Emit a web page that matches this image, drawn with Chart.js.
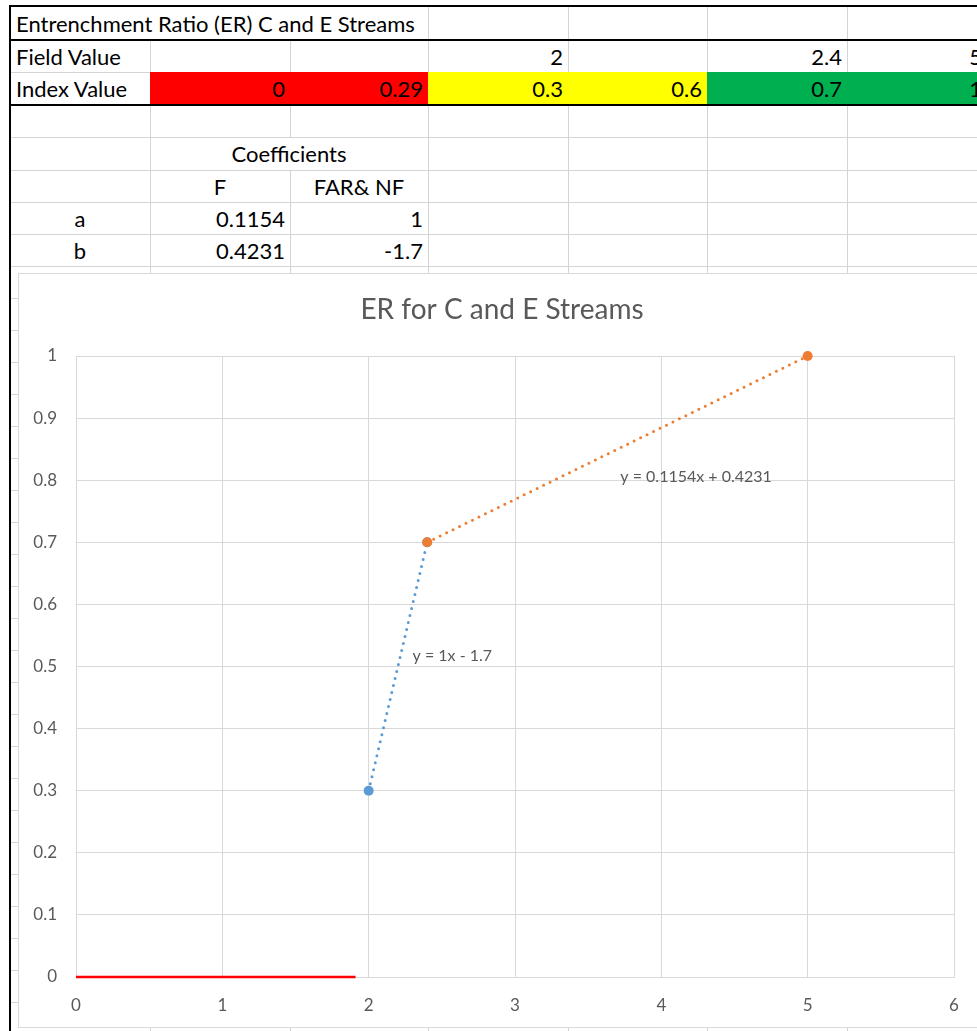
<!DOCTYPE html>
<html>
<head>
<meta charset="utf-8">
<title>ER for C and E Streams</title>
<script src="https://cdn.jsdelivr.net/npm/chart.js@4/dist/chart.umd.min.js"></script>
<style>
  html, body { margin: 0; padding: 0; background: #fff; width: 977px; height: 1031px; overflow: hidden; }
  #sheet { position: absolute; left: 0; top: 0; width: 977px; height: 1031px; overflow: hidden;
           font-family: Lato, "Liberation Sans", sans-serif; color: #000; }
  .cell { position: absolute; box-sizing: border-box; font-size: 22px; white-space: nowrap;
          display: flex; align-items: center; padding: 0 5px; }
  .gl { position: absolute; background: #d4d4d4; }
  .bk { position: absolute; background: #000; }
  .fill { position: absolute; }
  #chartBox { position: absolute; left: 18px; top: 273px; width: 968px; height: 755px;
              border: 1px solid #d9d9d9; background: #fff; box-sizing: border-box; }
  #chartBox canvas { display: block; }
</style>
</head>
<body>
<div id="sheet"></div>
<div id="chartBox"><canvas id="er" width="966" height="753" style="width:966px;height:753px"></canvas></div>
<script>
// ---- worksheet values ----
const sheetTitle = 'Entrenchment Ratio (ER) C and E Streams';
const rowLabels = ['Field Value', 'Index Value'];
const fieldValues = [null, null, 2, null, 2.4, 5];          // columns B..G
const indexValues = [0, 0.29, 0.3, 0.6, 0.7, 1];            // columns B..G
const coefficientTitle = 'Coefficients';
const coefficientHeaders = ['F', 'FAR& NF'];
const coefNames = ['a', 'b'];
const coefA = [0.1154, 1];                                   // slope: F, FAR&NF
const coefB = [0.4231, -1.7];                                // intercept: F, FAR&NF

// ---- chart values ----
const chartTitle = 'ER for C and E Streams';
const xTicks = [0, 1, 2, 3, 4, 5, 6];
const yTicks = [0, 0.1, 0.2, 0.3, 0.4, 0.5, 0.6, 0.7, 0.8, 0.9, 1];
const poorX = [0, 1.91];
const poorY = [0, 0];
const farNfX = [2, 2.4];
const farNfY = [0.3, 0.7];
const fX = [2.4, 5];
const fY = [0.7, 1];

// ---- worksheet layout ----
const colEdges = [10, 150, 290, 428, 568, 707, 847, 987];
const rowEdges = [6, 40, 72, 105, 137, 170, 202, 234, 266];
const bandFills = ['#FF0000', '#FF0000', '#FFFF00', '#FFFF00', '#00B050', '#00B050'];

const sheet = document.getElementById('sheet');
function box(cls, l, t, w, h, bg) {
  const d = document.createElement('div');
  d.className = cls;
  d.style.left = l + 'px'; d.style.top = t + 'px';
  d.style.width = w + 'px'; d.style.height = h + 'px';
  if (bg) d.style.background = bg;
  sheet.appendChild(d);
  return d;
}
function text(str, l, t, w, h, align) {
  const d = box('cell', l, t, w, h);
  d.textContent = str;
  d.style.justifyContent = align === 'right' ? 'flex-end' : align === 'center' ? 'center' : 'flex-start';
  return d;
}

// extra rows continue below the coefficient block
const allRows = rowEdges.slice();
while (allRows[allRows.length - 1] < 1031) allRows.push(allRows[allRows.length - 1] + 32);

// horizontal gridlines
allRows.forEach(y => box('gl', 10, y, 977, 1));
// vertical gridlines, skipping spilled / centred text
colEdges.slice(1).forEach(x => {
  for (let r = 0; r < allRows.length - 1; r++) {
    const y0 = allRows[r], y1 = allRows[r + 1];
    if (r === 0 && (x === 150 || x === 290)) continue;
    if (r === 4 && x === 290) continue;
    box('gl', x, y0, 1, y1 - y0);
  }
});

// index band fills
indexValues.forEach((v, i) => {
  box('fill', colEdges[i + 1], rowEdges[2], colEdges[i + 2] - colEdges[i + 1] + 1, rowEdges[3] - rowEdges[2], bandFills[i]);
});

// heavy borders
box('bk', 9, 5, 968, 2);
box('bk', 9, 39, 968, 2);
box('bk', 9, 104, 968, 2);
box('bk', 9, 5, 2, 1026);

// cell text
text(sheetTitle, 11, rowEdges[0], 500, rowEdges[1] - rowEdges[0], 'left');
rowLabels.forEach((s, r) => text(s, 11, rowEdges[r + 1], 139, rowEdges[r + 2] - rowEdges[r + 1], 'left'));
fieldValues.forEach((v, i) => {
  if (v === null) return;
  text(String(v), colEdges[i + 1], rowEdges[1], colEdges[i + 2] - colEdges[i + 1], rowEdges[2] - rowEdges[1], 'right');
});
indexValues.forEach((v, i) => {
  text(String(v), colEdges[i + 1], rowEdges[2], colEdges[i + 2] - colEdges[i + 1], rowEdges[3] - rowEdges[2], 'right');
});
text(coefficientTitle, colEdges[1], rowEdges[4], colEdges[3] - colEdges[1], rowEdges[5] - rowEdges[4], 'center');
coefficientHeaders.forEach((s, i) => text(s, colEdges[i + 1], rowEdges[5], colEdges[i + 2] - colEdges[i + 1], rowEdges[6] - rowEdges[5], 'center'));
[coefA, coefB].forEach((row, r) => {
  const t = rowEdges[6 + r], h = rowEdges[7 + r] - t;
  text(coefNames[r], colEdges[0], t, colEdges[1] - colEdges[0], h, 'center');
  row.forEach((v, i) => text(String(v), colEdges[i + 1], t, colEdges[i + 2] - colEdges[i + 1], h, 'right'));
});

// ---- chart ----
const pts = (xs, ys) => xs.map((x, i) => ({ x: x, y: ys[i] }));
const eq = (a, b) => 'y = ' + a + 'x ' + (b < 0 ? '- ' : '+ ') + Math.abs(b);

const GREY = '#595959';
const GRID = '#d9d9d9';
Chart.defaults.font.family = 'Lato, "Liberation Sans", sans-serif';

const titleText = {
  id: 'titleText',
  afterDraw(chart, args, opts) {
    const ctx = chart.ctx;
    ctx.save();
    ctx.font = opts.size + 'px ' + Chart.defaults.font.family;
    ctx.fillStyle = GREY;
    ctx.textAlign = 'center';
    ctx.textBaseline = 'middle';
    ctx.fillText(opts.text, chart.width / 2, opts.y);
    ctx.restore();
  }
};

const equationLabels = {
  id: 'equationLabels',
  afterDatasetsDraw(chart, args, opts) {
    const ctx = chart.ctx, xs = chart.scales.x, ys = chart.scales.y;
    ctx.save();
    ctx.font = opts.size + 'px ' + Chart.defaults.font.family;
    ctx.fillStyle = GREY;
    ctx.textAlign = 'left';
    ctx.textBaseline = 'middle';
    opts.items.forEach(it => ctx.fillText(it.text, xs.getPixelForValue(it.x), ys.getPixelForValue(it.y)));
    ctx.restore();
  }
};

new Chart(document.getElementById('er'), {
  type: 'scatter',
  data: {
    datasets: [
      {
        label: 'F',
        data: pts(fX, fY),
        showLine: true,
        clip: false,
        borderColor: '#ED7D31',
        backgroundColor: '#ED7D31',
        borderWidth: 3,
        borderDash: [0, 7.2],
        borderCapStyle: 'round',
        pointRadius: 5,
        pointBorderWidth: 0,
        pointBackgroundColor: '#ED7D31'
      },
      {
        label: 'FAR& NF',
        data: pts(farNfX, farNfY),
        showLine: true,
        clip: false,
        borderColor: '#5B9BD5',
        backgroundColor: '#5B9BD5',
        borderWidth: 3,
        borderDash: [0, 7.2],
        borderCapStyle: 'round',
        pointRadius: 5,
        pointBorderWidth: 0,
        pointBackgroundColor: '#5B9BD5'
      },
      {
        label: 'Poor',
        data: pts(poorX, poorY),
        showLine: true,
        clip: false,
        borderColor: '#FF0000',
        borderWidth: 2.5,
        pointRadius: 0
      }
    ]
  },
  options: {
    responsive: false,
    animation: false,
    devicePixelRatio: 1,
    layout: { padding: { top: 82, right: 31, left: 0, bottom: 0 } },
    plugins: {
      legend: { display: false },
      tooltip: { enabled: false },
      titleText: { text: chartTitle, size: 28, y: 36 },
      equationLabels: {
        size: 16,
        items: [
          { text: eq(coefA[1], coefB[1]), x: 2.3, y: 0.517 },
          { text: eq(coefA[0], coefB[0]), x: 3.72, y: 0.805 }
        ]
      }
    },
    scales: {
      x: {
        type: 'linear',
        min: xTicks[0], max: xTicks[xTicks.length - 1],
        afterBuildTicks: s => { s.ticks = xTicks.map(v => ({ value: v })); },
        afterFit: s => { s.height = 50; },
        grid: { color: GRID, lineWidth: 1, drawTicks: false },
        border: { color: GRID, width: 1 },
        ticks: { color: GREY, font: { size: 17 }, padding: 18, maxRotation: 0 }
      },
      y: {
        type: 'linear',
        min: yTicks[0], max: yTicks[yTicks.length - 1],
        afterBuildTicks: s => { s.ticks = yTicks.map(v => ({ value: v })); },
        afterFit: s => { s.width = 57; },
        grid: { color: GRID, lineWidth: 1, drawTicks: false },
        border: { color: GRID, width: 1 },
        ticks: { color: GREY, font: { size: 17 }, padding: 19, callback: v => String(+v.toFixed(1)) }
      }
    }
  },
  plugins: [titleText, equationLabels]
});
</script>
</body>
</html>
